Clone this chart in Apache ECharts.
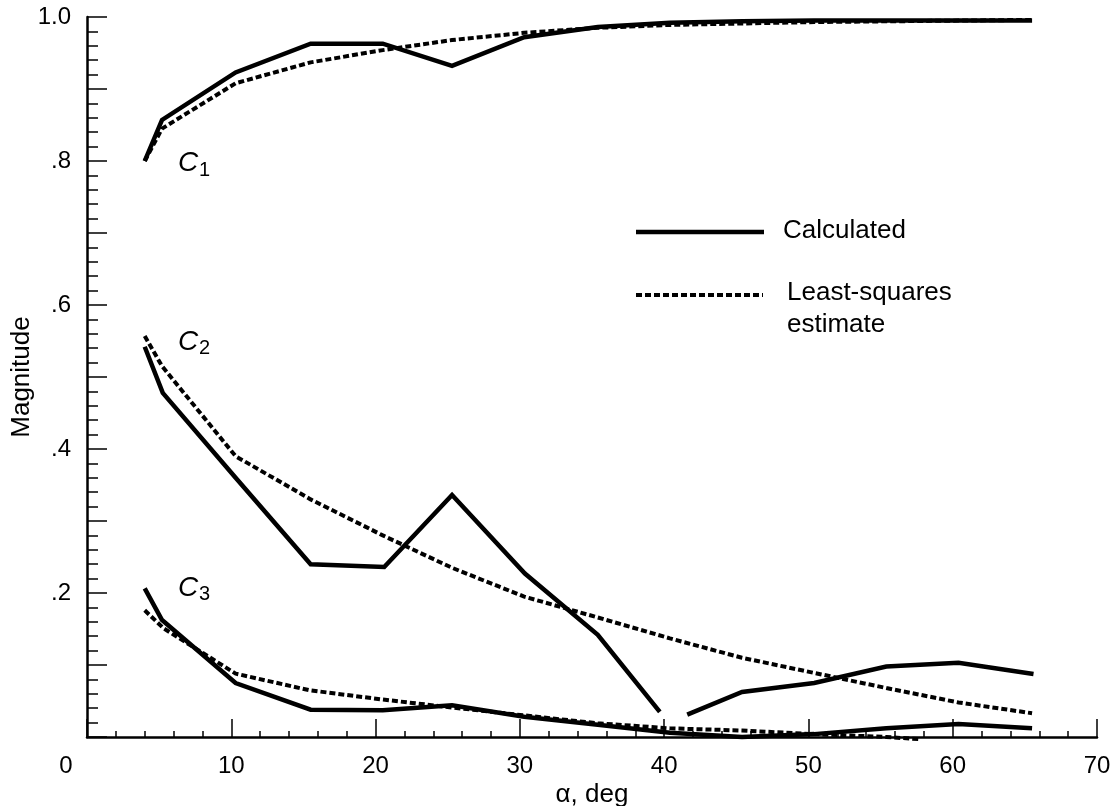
<!DOCTYPE html>
<html>
<head>
<meta charset="utf-8">
<script src="https://cdn.jsdelivr.net/npm/echarts@6/dist/echarts.min.js"></script>
<style>
html,body{margin:0;padding:0;background:#fff;}
#chart{width:1114px;height:806px;}
</style>
</head>
<body>
<div id="chart"></div>
<script>
// ---- data ----
const alpha = [4.0, 5.2, 10.3, 15.5, 20.5, 25.3, 30.3, 35.4, 40.4, 45.4, 50.4, 55.4, 60.4, 65.5];
const c1Calculated = [0.800, 0.857, 0.923, 0.963, 0.963, 0.932, 0.972, 0.986, 0.992, 0.994, 0.995, 0.995, 0.995, 0.995];
const c1Estimate   = [0.800, 0.845, 0.908, 0.937, 0.954, 0.968, 0.978, 0.985, 0.989, 0.991, 0.993, 0.994, 0.995, 0.996];
const c2AlphaCalc  = [4.0, 5.25, 10.3, 15.5, 20.6, 25.3, 30.35, 35.4, 39.7, 40.6, 41.6, 45.4, 50.4, 55.4, 60.4, 65.6];
const c2Calculated = [0.542, 0.478, 0.360, 0.240, 0.236, 0.336, 0.227, 0.142, 0.035, null, 0.031, 0.0625, 0.075, 0.098, 0.103, 0.0875];
const c2Estimate   = [0.557, 0.515, 0.390, 0.330, 0.280, 0.235, 0.195, 0.166, 0.137, 0.110, 0.089, 0.068, 0.048, 0.033];
const c3Calculated = [0.2065, 0.1625, 0.075, 0.038, 0.037, 0.044, 0.028, 0.017, 0.006, 0.000, 0.004, 0.012, 0.018, 0.012];
const c3AlphaEst   = [4.0, 5.3, 10.3, 15.4, 20.5, 25.3, 30.3, 35.4, 40.4, 45.4, 50.4, 55.4, 57.7];
const c3Estimate   = [0.176, 0.151, 0.088, 0.065, 0.052, 0.041, 0.030, 0.019, 0.012, 0.009, 0.004, 0.000, -0.003];
const yTickLabels  = {10: '1.0', 8: '.8', 6: '.6', 4: '.4', 2: '.2'};
const xTickLabels  = {10: '10', 20: '20', 30: '30', 40: '40', 50: '50', 60: '60', 70: '70'};
const legendNames  = ['Calculated', 'Least-squares\nestimate'];
const curveNames   = ['1', '2', '3'];

const FONT = '"Liberation Sans", Arial, Helvetica, sans-serif';
const pair = (xs, ys) => xs.map((x, i) => [x, ys[i] === null ? '-' : ys[i]]);

const solid = {color: '#000', width: 4.5, type: 'solid', cap: 'butt', join: 'miter'};
const hatch = {color: '#000', width: 4, type: [6, 3], cap: 'butt'};

function lineSeries(name, data, style) {
  return {
    name: name, type: 'line', data: data, symbol: 'none', clip: false,
    connectNulls: false, lineStyle: style, silent: true, animation: false
  };
}

const chart = echarts.init(document.getElementById('chart'), null, {renderer: 'canvas'});
chart.setOption({
  animation: false,
  backgroundColor: '#fff',
  grid: {left: 87, right: 17, top: 17, bottom: 69, containLabel: false, outerBoundsMode: 'none'},
  xAxis: {
    type: 'value', min: 0, max: 70, interval: 10,
    name: 'α, deg', nameLocation: 'middle', nameGap: 45, nameMoveOverlap: false,
    nameTextStyle: {fontFamily: FONT, fontSize: 26, color: '#000'},
    axisLine: {lineStyle: {color: '#000', width: 2.5}},
    axisTick: {inside: true, length: 18, lineStyle: {color: '#000', width: 1.5}},
    minorTick: {show: true, splitNumber: 5, length: 6, lineStyle: {color: '#000', width: 1.5}},
    splitLine: {show: false},
    axisLabel: {
      fontFamily: FONT, fontSize: 24, color: '#000', margin: 17,
      formatter: v => v === 0 ? '{z|0}' : (xTickLabels[Math.round(v)] || ''),
      rich: {z: {fontFamily: FONT, fontSize: 24, color: '#000', padding: [0, 42, 0, 0]}}
    }
  },
  yAxis: {
    type: 'value', min: 0, max: 1, interval: 0.1,
    name: 'Magnitude', nameLocation: 'middle', nameGap: 52, nameRotate: 90, nameMoveOverlap: false,
    nameTextStyle: {fontFamily: FONT, fontSize: 26, color: '#000'},
    axisLine: {lineStyle: {color: '#000', width: 2.5}},
    axisTick: {inside: true, length: 20, lineStyle: {color: '#000', width: 1.5}},
    minorTick: {show: true, splitNumber: 5, length: 11, lineStyle: {color: '#000', width: 1.5}},
    splitLine: {show: false},
    axisLabel: {
      fontFamily: FONT, fontSize: 24, color: '#000', margin: 16,
      formatter: v => yTickLabels[Math.round(v * 10)] || ''
    }
  },
  series: [
    lineSeries('C1 calculated', pair(alpha, c1Calculated), solid),
    lineSeries('C1 estimate', pair(alpha, c1Estimate), hatch),
    lineSeries('C2 calculated', pair(c2AlphaCalc, c2Calculated), solid),
    lineSeries('C2 estimate', pair(alpha, c2Estimate), hatch),
    lineSeries('C3 calculated', pair(alpha, c3Calculated), solid),
    lineSeries('C3 estimate', pair(c3AlphaEst, c3Estimate), hatch)
  ]
});

// curve labels C1, C2, C3 anchored in data space
const labelAnchors = [[6.3, 0.797], [6.3, 0.549], [6.3, 0.207]];
const graphics = curveNames.map((n, i) => {
  const p = chart.convertToPixel({gridIndex: 0}, labelAnchors[i]);
  return {
    type: 'text', x: p[0], y: p[1], silent: true,
    style: {
      text: '{c|C}{s|' + n + '}', verticalAlign: 'middle', align: 'left',
      rich: {
        c: {fontFamily: FONT, fontSize: 28, fontStyle: 'italic', fill: '#000'},
        s: {fontFamily: FONT, fontSize: 20, fill: '#000', padding: [14, 0, 0, 1]}
      }
    }
  };
});

// legend (line samples + text)
graphics.push(
  {type: 'line', shape: {x1: 636, y1: 232, x2: 764, y2: 232}, style: {stroke: '#000', lineWidth: 4.5}, silent: true},
  {type: 'text', x: 783, y: 231, silent: true,
   style: {text: legendNames[0], fontFamily: FONT, fontSize: 26, fill: '#000', verticalAlign: 'middle'}},
  {type: 'line', shape: {x1: 636, y1: 295, x2: 763, y2: 295}, style: {stroke: '#000', lineWidth: 4, lineDash: [6, 3]}, silent: true},
  {type: 'text', x: 787, y: 277, silent: true,
   style: {text: legendNames[1], fontFamily: FONT, fontSize: 26, lineHeight: 32, fill: '#000', verticalAlign: 'top'}}
);
chart.setOption({graphic: graphics});
</script>
</body>
</html>
